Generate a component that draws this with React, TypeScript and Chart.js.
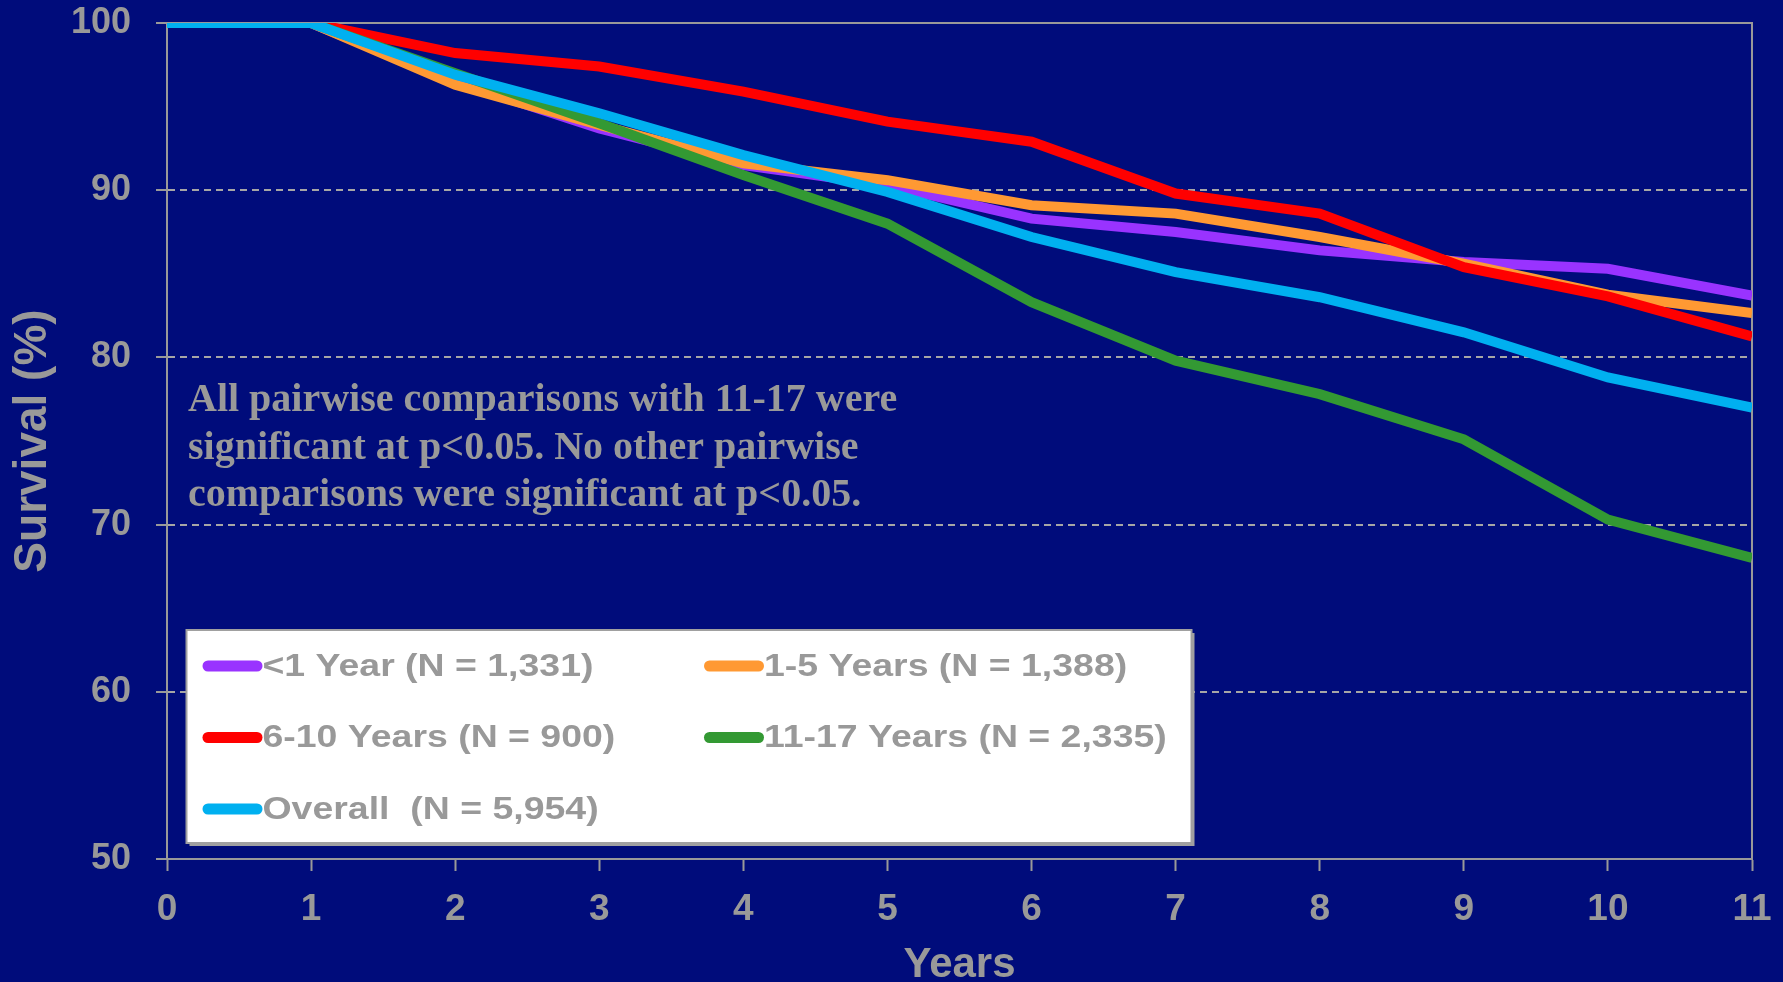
import React, { useEffect, useRef } from "react";
import { Chart, registerables } from "chart.js";

Chart.register(...registerables);

// ---- data ----
const years = [0, 1, 2, 3, 4, 5, 6, 7, 8, 9, 10, 11];
const seriesLabels = [
  "<1 Year (N = 1,331)",
  "1-5 Years (N = 1,388)",
  "6-10 Years (N = 900)",
  "11-17 Years (N = 2,335)",
  "Overall  (N = 5,954)",
];
const lessThan1Year = [100, 100, 96.5, 93.7, 91.5, 90.3, 88.3, 87.5, 86.4, 85.7, 85.3, 83.7];
const years1to5 = [100, 100, 96.3, 93.9, 91.6, 90.6, 89.1, 88.6, 87.2, 85.6, 83.75, 82.65];
const years6to10 = [100, 100, 98.2, 97.4, 95.9, 94.1, 92.9, 89.8, 88.6, 85.4, 83.65, 81.25];
const years11to17 = [100, 100, 97.0, 94.0, 90.9, 88.0, 83.3, 79.8, 77.8, 75.1, 70.3, 68.0];
const overall = [100, 100, 96.9, 94.6, 92.1, 89.9, 87.2, 85.1, 83.6, 81.5, 78.8, 77.0];
const seriesValues = [lessThan1Year, years1to5, years6to10, years11to17, overall];
const seriesColors = ["#9933FF", "#FF9933", "#FF0000", "#339933", "#00B0F0"];
const seriesOrder = [5, 4, 3, 2, 1];
const yTickValues = [50, 60, 70, 80, 90, 100];
const xAxisTitle = "Years";
const yAxisTitle = "Survival (%)";
const noteLines = [
  "All pairwise comparisons with 11-17 were",
  "significant at p<0.05. No other pairwise",
  "comparisons were significant at p<0.05.",
];

// ---- style ----
const W = 1783;
const H = 982;
const NAVY = "#000C7B";
const GRAY = "#999999";
const GRID = "#A6A6A6";
const SANS = '"Liberation Sans", Arial, sans-serif';
const SERIF = '"Liberation Serif", "Times New Roman", serif';

const framePlugin = {
  id: "frame",
  beforeDatasetsDraw(chart: any) {
    const { ctx, chartArea: a } = chart;
    ctx.save();
    ctx.strokeStyle = GRAY;
    ctx.lineWidth = 2;
    ctx.beginPath();
    ctx.moveTo(a.left, a.top);
    ctx.lineTo(a.right, a.top);
    ctx.lineTo(a.right, a.bottom);
    ctx.stroke();
    ctx.restore();
  },
};

const overlayPlugin = {
  id: "overlay",
  afterDatasetsDraw(chart: any) {
    const { ctx, chartArea: a } = chart;
    ctx.save();
    // note text
    ctx.fillStyle = GRAY;
    ctx.font = `bold 40px ${SERIF}`;
    ctx.textAlign = "left";
    ctx.textBaseline = "alphabetic";
    noteLines.forEach((line, i) => {
      ctx.fillText(line, a.left + 21, a.top + 388 + i * 47.5);
    });

    // legend box
    const bx = a.left + 19.5;
    const by = a.top + 607;
    const bw = 1005;
    const bh = 213;
    ctx.fillStyle = "#A0A0A0";
    ctx.fillRect(bx + 3, by + 3, bw, bh);
    ctx.fillStyle = "#FFFFFF";
    ctx.fillRect(bx, by, bw, bh);
    ctx.strokeStyle = "#A0A0A0";
    ctx.lineWidth = 2;
    ctx.strokeRect(bx, by, bw, bh);

    chart.data.datasets.forEach((ds: any, i: number) => {
      const col = i % 2;
      const row = Math.floor(i / 2);
      const x0 = bx + 16 + col * 501.5;
      const y0 = by + 36 + row * 71.5;
      ctx.strokeStyle = ds.borderColor;
      ctx.lineWidth = 11;
      ctx.lineCap = "round";
      ctx.beginPath();
      ctx.moveTo(x0 + 5.5, y0);
      ctx.lineTo(x0 + 54.5, y0);
      ctx.stroke();
      ctx.save();
      ctx.translate(x0 + 60, y0 + 1);
      ctx.scale(1.17, 1);
      ctx.fillStyle = GRAY;
      ctx.font = `bold 32px ${SANS}`;
      ctx.textBaseline = "middle";
      ctx.fillText(ds.label, 0, 0);
      ctx.restore();
    });
    ctx.restore();
  },
};

export default function App() {
  const ref = useRef<HTMLCanvasElement>(null);

  useEffect(() => {
    document.body.style.margin = "0";
    document.body.style.background = NAVY;
    const canvas = ref.current;
    if (!canvas) return;
    const chart = new Chart(canvas, {
      type: "line",
      data: {
        datasets: seriesLabels.map((label, i) => ({
          label,
          data: years.map((x, j) => ({ x, y: seriesValues[i][j] })),
          borderColor: seriesColors[i],
          backgroundColor: seriesColors[i],
          borderWidth: 10,
          pointRadius: 0,
          tension: 0,
          fill: false,
          order: seriesOrder[i],
        })),
      },
      options: {
        responsive: false,
        animation: false,
        layout: { padding: { top: 23, right: 31, left: 0, bottom: 0 } },
        plugins: {
          legend: { display: false },
          tooltip: { enabled: false },
        },
        scales: {
          x: {
            type: "linear",
            min: 0,
            max: 11,
            ticks: {
              stepSize: 1,
              color: GRAY,
              font: { family: SANS, size: 37, weight: "bold" },
              padding: 17,
              maxRotation: 0,
            },
            grid: {
              drawOnChartArea: false,
              drawTicks: true,
              tickLength: 12,
              tickColor: GRAY,
              tickWidth: 2,
            },
            border: { color: GRAY, width: 2 },
            title: {
              display: true,
              text: xAxisTitle,
              color: GRAY,
              font: { family: SANS, size: 42, weight: "bold", lineHeight: 0.8 },
              padding: { top: 0, bottom: 0 },
            },
            afterFit: (s: any) => {
              s.height = 123;
              s.paddingLeft = 0;
              s.paddingRight = 0;
              s.paddingTop = 0;
              s.paddingBottom = 0;
            },
          },
          y: {
            type: "linear",
            min: 50,
            max: 100,
            afterBuildTicks: (s: any) => {
              s.ticks = yTickValues.map((v) => ({ value: v }));
            },
            ticks: {
              color: GRAY,
              font: { family: SANS, size: 36, weight: "bold" },
              padding: 25,
            },
            grid: {
              color: (c: any) =>
                c.tick && (c.tick.value === 100 || c.tick.value === 50) ? "rgba(0,0,0,0)" : GRID,
              lineWidth: 2,
              drawTicks: true,
              tickLength: 11,
              tickColor: GRAY,
              tickWidth: 2,
            },
            border: { color: GRAY, width: 2, dash: [7, 5] },
            title: {
              display: true,
              text: yAxisTitle,
              color: GRAY,
              font: { family: SANS, size: 46, weight: "bold" },
              padding: { top: 6, bottom: 0 },
            },
            afterFit: (s: any) => {
              s.width = 167;
              s.paddingLeft = 0;
              s.paddingRight = 0;
              s.paddingTop = 0;
              s.paddingBottom = 0;
            },
          },
        },
      } as any,
      plugins: [framePlugin, overlayPlugin],
    });
    return () => chart.destroy();
  }, []);

  return (
    <div style={{ position: "absolute", left: 0, top: 0, width: W, height: H, background: NAVY }}>
      <canvas ref={ref} width={W} height={H} style={{ display: "block" }} />
    </div>
  );
}
